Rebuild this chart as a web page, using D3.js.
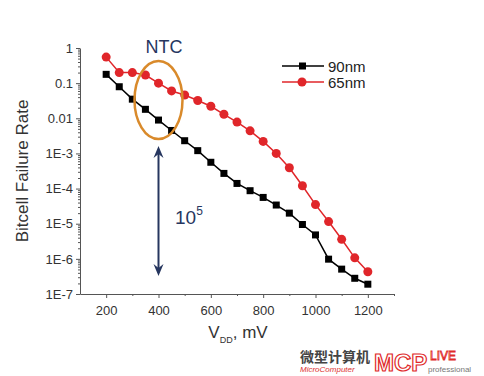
<!DOCTYPE html>
<html>
<head>
<meta charset="utf-8">
<script src="https://cdn.jsdelivr.net/npm/d3@7"></script>
<style>
  body { margin: 0; background: #fff; }
  svg { display: block; font-family: "Liberation Sans", Arial, sans-serif; }
</style>
</head>
<body>
<div id="chart"></div>
<script>
const vdd = [200, 250, 300, 350, 400, 450, 500, 550, 600, 650, 700, 750, 800, 850, 900, 950, 1000, 1050, 1100, 1150, 1200];
const fail90 = [1.78e-1, 7.9e-2, 3.5e-2, 1.8e-2, 8.9e-3, 4.5e-3, 2.3e-3, 1.2e-3, 5.6e-4, 2.7e-4, 1.4e-4, 8.7e-5, 5.6e-5, 3.4e-5, 2.0e-5, 9.5e-6, 4.8e-6, 9.8e-7, 5.1e-7, 2.8e-7, 1.9e-7];
const fail65 = [0.55, 0.20, 0.20, 0.17, 0.10, 0.060, 0.046, 0.032, 0.022, 0.013, 7.8e-3, 4.4e-3, 2.2e-3, 1.0e-3, 3.9e-4, 1.2e-4, 3.5e-5, 1.15e-5, 3.6e-6, 1.07e-6, 4.3e-7];
const yTickVals = [1, 0.1, 0.01, 1e-3, 1e-4, 1e-5, 1e-6, 1e-7];
const yTickLabels = ["1", "0.1", "0.01", "1E-3", "1E-4", "1E-5", "1E-6", "1E-7"];
const xTickVals = [200, 400, 600, 800, 1000, 1200];

const width = 484, height = 376;
const svg = d3.select("#chart").append("svg")
  .attr("width", width)
  .attr("height", height);

const x = d3.scaleLinear().domain([100, 1300]).range([80, 394]);
const y = d3.scaleLog().domain([1e-7, 1]).range([294, 48]);

// axes
const xAxis = svg.append("g")
  .attr("transform", `translate(0,${y(1e-7)})`)
  .call(d3.axisBottom(x).tickValues(xTickVals).tickSize(4).tickSizeOuter(0).tickFormat(d3.format("d")));
svg.append("g")
  .attr("transform", `translate(0,${y(1e-7)})`)
  .call(d3.axisBottom(x).tickValues(d3.range(300, 1301, 200)).tickSize(2).tickFormat(""))
  .call(g => g.select(".domain").remove());

const yAxis = svg.append("g")
  .attr("transform", `translate(${x(100)},0)`)
  .call(d3.axisLeft(y).tickValues(yTickVals).tickSize(4).tickSizeOuter(0)
    .tickFormat((d, i) => yTickLabels[i]));
const minor = [];
yTickVals.slice(0, -1).forEach(v => {
  for (let k = 2; k <= 9; k++) minor.push(v / 10 * k);
});
svg.append("g")
  .attr("transform", `translate(${x(100)},0)`)
  .call(d3.axisLeft(y).tickValues(minor).tickSize(2).tickFormat(""))
  .call(g => g.select(".domain").remove());

svg.selectAll(".domain, .tick line").attr("stroke", "#555").attr("stroke-width", 1);
svg.selectAll(".tick text").attr("fill", "#333").style("font-size", "13px")
  .style("font-family", "'Liberation Sans', Arial, sans-serif");
xAxis.selectAll(".tick text").attr("dy", "1.05em");

// axis titles
svg.append("text")
  .attr("transform", "rotate(-90)")
  .attr("x", -171)
  .attr("y", 28)
  .attr("text-anchor", "middle")
  .attr("fill", "#333")
  .style("font-size", "17px")
  .text("Bitcell Failure Rate");

const xt = svg.append("text")
  .attr("x", 238)
  .attr("y", 338)
  .attr("text-anchor", "middle")
  .attr("fill", "#333")
  .style("font-size", "17px");
xt.append("tspan").text("V");
xt.append("tspan").attr("dy", 5).style("font-size", "9px").text("DD");
xt.append("tspan").attr("dy", -5).text(", mV");

// series
const series = [
  { name: "90nm", values: fail90, color: "#000", shape: "square" },
  { name: "65nm", values: fail65, color: "#e0262a", shape: "circle" }
];
const line = d3.line().x(d => x(d[0])).y(d => y(d[1]));

series.slice().reverse().forEach(s => {
  const pts = vdd.map((v, i) => [v, s.values[i]]);
  svg.append("path")
    .datum(pts)
    .attr("fill", "none")
    .attr("stroke", s.color)
    .attr("stroke-width", 1.5)
    .attr("d", line);
  if (s.shape === "square") {
    svg.selectAll(null).data(pts).enter().append("rect")
      .attr("x", d => x(d[0]) - 3.5)
      .attr("y", d => y(d[1]) - 3.5)
      .attr("width", 7).attr("height", 7)
      .attr("fill", s.color);
  } else {
    svg.selectAll(null).data(pts).enter().append("circle")
      .attr("cx", d => x(d[0]))
      .attr("cy", d => y(d[1]))
      .attr("r", 4.5)
      .attr("fill", s.color);
  }
});

// legend
series.forEach((s, i) => {
  const ly = 66 + i * 16;
  const g = svg.append("g");
  g.append("line").attr("x1", 282).attr("x2", 324).attr("y1", ly).attr("y2", ly)
    .attr("stroke", s.color).attr("stroke-width", 1.5);
  if (s.shape === "square") {
    g.append("rect").attr("x", 299).attr("y", ly - 3.5).attr("width", 7).attr("height", 7).attr("fill", s.color);
  } else {
    g.append("circle").attr("cx", 302).attr("cy", ly).attr("r", 4.5).attr("fill", s.color);
  }
  g.append("text").attr("x", 328).attr("y", ly + 5.5)
    .attr("fill", "#222").style("font-size", "15px").text(s.name);
});

// NTC annotation
const navy = "#26365f";
svg.append("text")
  .attr("x", 164).attr("y", 53)
  .attr("text-anchor", "middle")
  .attr("fill", navy)
  .style("font-size", "18px")
  .text("NTC");
svg.append("ellipse")
  .attr("cx", x(400)).attr("cy", 100)
  .attr("rx", 24).attr("ry", 39)
  .attr("fill", "none")
  .attr("stroke", "#d98a2b")
  .attr("stroke-width", 2.5);

// double arrow
const ax = x(400);
svg.append("line").attr("x1", ax).attr("x2", ax).attr("y1", 150).attr("y2", 272)
  .attr("stroke", navy).attr("stroke-width", 2);
svg.append("path")
  .attr("d", `M${ax - 5},${158} L${ax},${146} L${ax + 5},${158} L${ax},${154} Z`)
  .attr("fill", navy);
svg.append("path")
  .attr("d", `M${ax - 5},${264} L${ax},${276} L${ax + 5},${264} L${ax},${268} Z`)
  .attr("fill", navy);
const tp = svg.append("text")
  .attr("x", 175).attr("y", 224)
  .attr("fill", navy)
  .style("font-size", "19px");
tp.append("tspan").text("10");
tp.append("tspan").attr("dy", -9).style("font-size", "12px").text("5");

// watermark
const wm = svg.append("g");
wm.append("text").attr("x", 300).attr("y", 362)
  .attr("fill", "#444").style("font-size", "14px").style("font-weight", "bold")
  .style("font-family", "'Noto Sans CJK SC', sans-serif")
  .text("微型计算机");
wm.append("text").attr("x", 300).attr("y", 372)
  .attr("fill", "#d33").style("font-size", "8px").style("font-style", "italic")
  .text("MicroComputer");
wm.append("text").attr("x", 374).attr("y", 371)
  .attr("fill", "none").attr("stroke", "#e02a2a").attr("stroke-width", 1.2)
  .style("font-size", "24px").style("font-weight", "bold")
  .text("MCP");
wm.append("text").attr("x", 430).attr("y", 360)
  .attr("fill", "none").attr("stroke", "#e02a2a").attr("stroke-width", 0.8)
  .style("font-size", "12px")
  .text("LIVE");
wm.append("text").attr("x", 428).attr("y", 372)
  .attr("fill", "#777").style("font-size", "8px")
  .text("professional");
</script>
</body>
</html>
